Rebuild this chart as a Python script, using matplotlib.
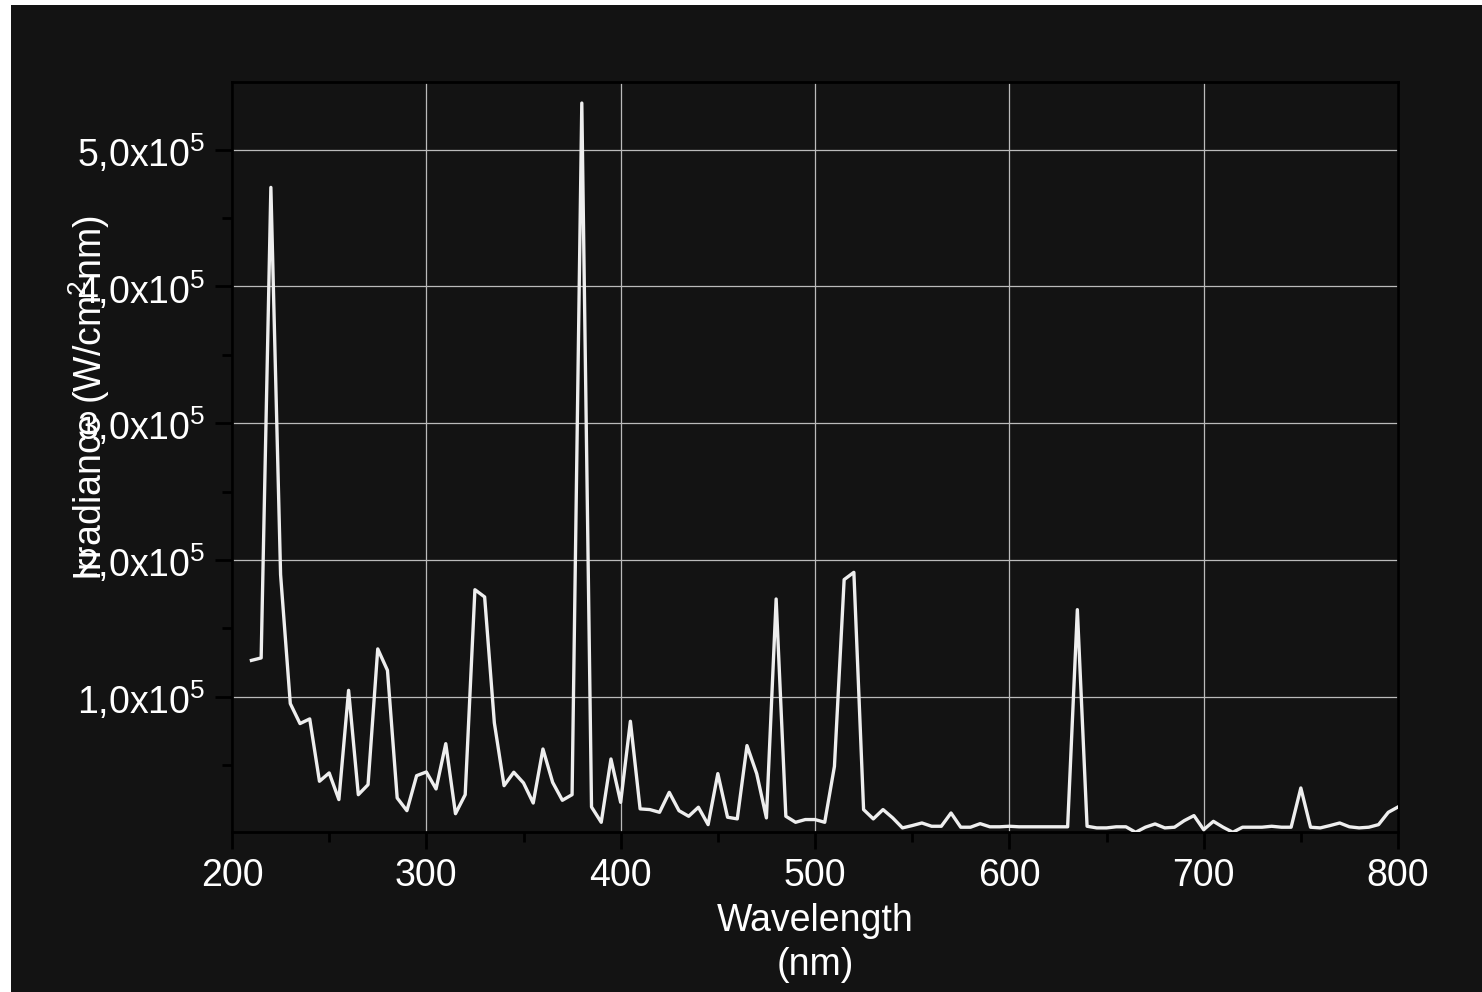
import numpy as np
import matplotlib
matplotlib.use("Agg")
import matplotlib.pyplot as plt
from matplotlib.patches import Rectangle
from matplotlib.ticker import MultipleLocator, FuncFormatter

plt.rcParams['font.family'] = ['Liberation Sans', 'DejaVu Sans']
plt.rcParams['mathtext.fontset'] = 'custom'
plt.rcParams['mathtext.rm'] = 'Liberation Sans'
plt.rcParams['mathtext.it'] = 'Liberation Sans'

# data (5 nm grid)
wavelength = np.arange(210, 801, 5)
irradiance = [
    126500, 128300, 472400, 189200, 94900, 80300, 83700, 38100, 44200, 24700,
    104600, 28300, 35600, 134900, 119200, 25900, 16600, 42200, 44900, 32500,
    65600, 14400, 28300, 178200, 172900, 80800, 34900, 44700, 36900, 22200,
    61700, 37300, 24200, 28300, 534100, 19300, 8100, 54400, 22700, 82000,
    17900, 17400, 15400, 30000, 16600, 12500, 19100, 6400, 43700, 11800,
    10600, 64200, 43700, 11300, 171400, 12500, 8100, 10100, 10100, 8100,
    49000, 185600, 190900, 17400, 10600, 17400, 11300, 4000, 5700, 7600,
    5200, 5200, 14900, 4500, 4500, 7100, 4800, 4800, 5200, 4800,
    4800, 4800, 4800, 4800, 4800, 163600, 5200, 4000, 4000, 4800,
    4800, 800, 4500, 6900, 4000, 4500, 9300, 13000, 2700, 8800,
    4500, 800, 4500, 4500, 4500, 5200, 4500, 4500, 33200, 4500,
    4000, 5700, 7600, 4800, 4000, 4500, 6400, 15400, 19300,
]

BG = '#131313'
FS = 27

fig = plt.figure(figsize=(14.82, 9.92), dpi=100, facecolor='white')
fig.patches.append(Rectangle((11/1482, 0), 1 - 11/1482, 987/992,
                             transform=fig.transFigure, facecolor=BG,
                             edgecolor='none', zorder=-1))

ax = fig.add_axes([232/1482, 1 - 832/992, (1398-232)/1482, (832-82)/992])
ax.set_facecolor(BG)

ax.plot(wavelength, irradiance, color='#eeeeee', lw=2.4, zorder=3)

ax.set_xlim(200, 800)
ax.set_ylim(1000, 5.495e5)

ax.xaxis.set_major_locator(MultipleLocator(100))
ax.xaxis.set_minor_locator(MultipleLocator(50))
ax.yaxis.set_major_locator(MultipleLocator(1e5))
ax.yaxis.set_minor_locator(MultipleLocator(0.5e5))

def yfmt(v, pos):
    return ('%.1f' % (v / 1e5)).replace('.', ',') + 'x10$^5$'
ax.yaxis.set_major_formatter(FuncFormatter(yfmt))

ax.grid(True, which='major', color='#bbbbbb', lw=0.9, zorder=1)

for s in ax.spines.values():
    s.set_color('black')
    s.set_linewidth(2)

ax.tick_params(which='major', direction='out', length=12, width=2,
               color='black', labelcolor='white', labelsize=FS, pad=7)
ax.tick_params(which='minor', direction='out', length=7, width=2, color='black')

ax.set_xlabel('Wavelength\n(nm)', color='white', fontsize=FS,
              linespacing=1.3, labelpad=6)

fig.text(112/1482, 1 - 398/992, 'Irradiance (W/cm$^2$nm)', rotation=90,
         ha='right', va='center', color='white', fontsize=FS)

fig.savefig('out.png', dpi=100, facecolor=fig.get_facecolor())
